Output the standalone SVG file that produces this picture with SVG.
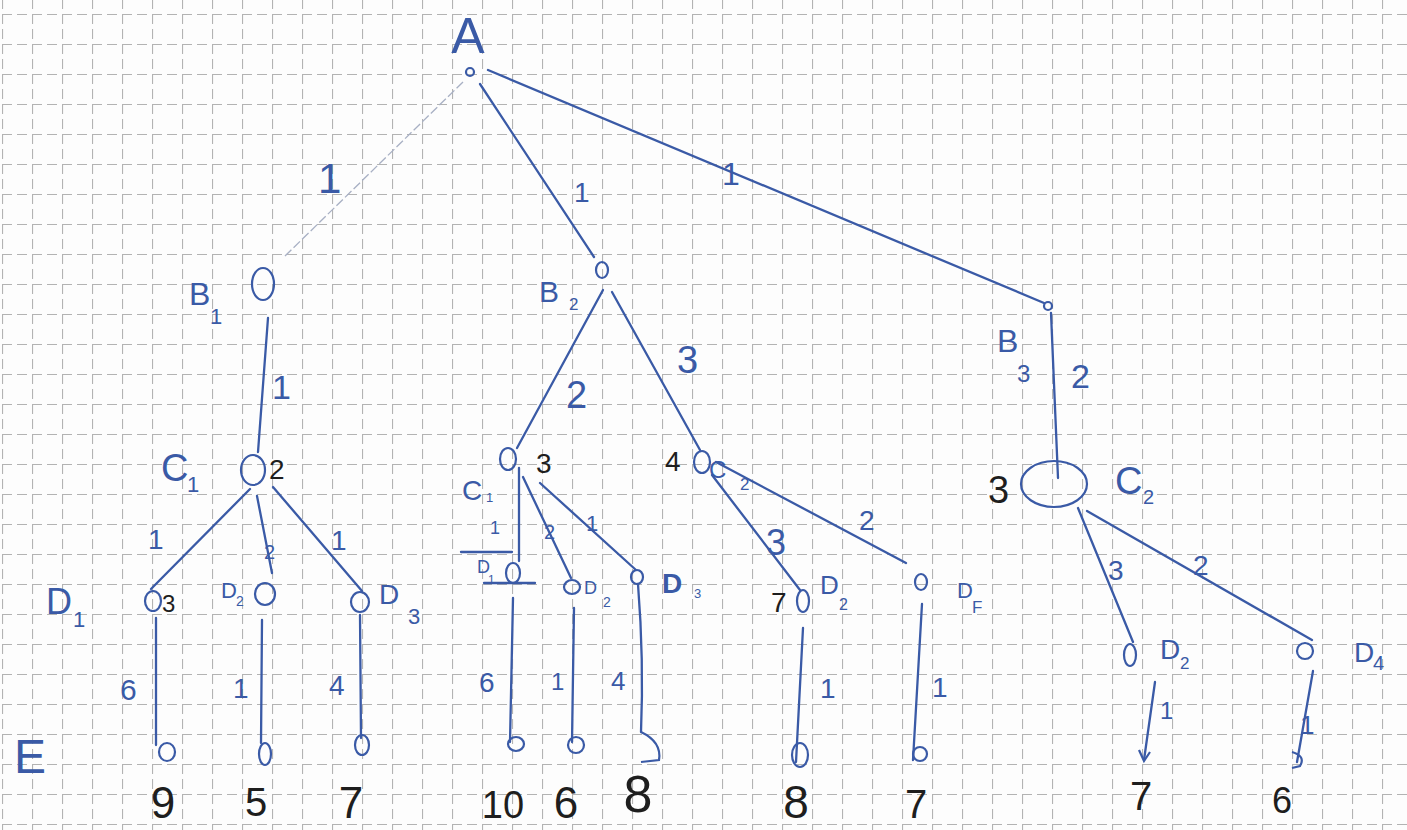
<svg xmlns="http://www.w3.org/2000/svg" width="1407" height="830" viewBox="0 0 1407 830">
<defs>
<pattern id="grid" x="2" y="14" width="30" height="30" patternUnits="userSpaceOnUse">
<path d="M0 0.5 H30 M0.5 0 V30" stroke="#b3b3b3" stroke-width="1.2" stroke-dasharray="10 5" fill="none"/>
</pattern>
<style>
.e{stroke:#3a5aa6;stroke-width:2.3;fill:none;stroke-linecap:round}
.faint{stroke:#a8b0c4;stroke-width:1.3;fill:none;stroke-dasharray:9 3}
.n{stroke:#3a5aa6;stroke-width:2.2;fill:none}
.t{fill:#3a5aa6;font-family:"Liberation Sans",Arial,sans-serif}
.k{fill:#1e1e1e;font-family:"Liberation Sans",Arial,sans-serif}
</style>
</defs>
<rect width="1407" height="830" fill="#fdfdfd"/>
<rect width="1407" height="830" fill="url(#grid)"/>

<g id="connectors">
<line class="faint" x1="463" y1="82" x2="283" y2="258"/>
<line class="e" x1="480" y1="84" x2="594" y2="257"/>
<line class="e" x1="488" y1="70" x2="1044" y2="303"/>
<line class="e" x1="268" y1="318" x2="258" y2="452"/>
<line class="e" x1="603" y1="290" x2="517" y2="448"/>
<line class="e" x1="612" y1="292" x2="700" y2="450"/>
<line class="e" x1="1051" y1="313" x2="1058" y2="478"/>
<line class="e" x1="250" y1="489" x2="151" y2="589"/>
<line class="e" x1="257" y1="496" x2="272" y2="573"/>
<line class="e" x1="273" y1="487" x2="362" y2="591"/>
<line class="e" x1="519" y1="468" x2="519" y2="561"/>
<line class="e" x1="523" y1="477" x2="571" y2="578"/>
<line class="e" x1="540" y1="483" x2="636" y2="570"/>
<line class="e" x1="712" y1="475" x2="800" y2="590"/>
<line class="e" x1="716" y1="462" x2="906" y2="563"/>
<line class="e" x1="1078" y1="508" x2="1133" y2="642"/>
<line class="e" x1="1087" y1="511" x2="1312" y2="640"/>
<line class="e" x1="156" y1="618" x2="156" y2="745"/>
<line class="e" x1="262" y1="620" x2="261" y2="743"/>
<line class="e" x1="360" y1="615" x2="361" y2="738"/>
<line class="e" x1="513" y1="598" x2="510" y2="742"/>
<line class="e" x1="574" y1="608" x2="572" y2="742"/>
<path class="e" d="M638 584 Q644 660 641 732"/>
<line class="e" x1="803" y1="628" x2="796" y2="762"/>
<line class="e" x1="922" y1="604" x2="913" y2="760"/>
<line class="e" x1="1155" y1="682" x2="1144" y2="760"/>
<line class="e" x1="1313" y1="671" x2="1297" y2="762"/>
<line class="e" x1="461" y1="552" x2="512" y2="552" stroke-width="1.6"/>
<line class="e" x1="484" y1="583" x2="535" y2="583" stroke-width="1.6"/>
</g>

<g id="A">
<text class="t" x="468" y="53" font-size="50" text-anchor="middle">A</text>
<circle class="n" cx="470" cy="72" r="4"/>
</g>
<g id="B1">
<ellipse class="n" cx="263" cy="284" rx="11" ry="16"/>
<text class="t" x="189" y="305" font-size="32">B<tspan x="210" y="324" font-size="22">1</tspan></text>
</g>
<g id="B2">
<ellipse class="n" cx="602" cy="270" rx="6" ry="8"/>
<text class="t" x="539" y="302" font-size="30">B<tspan x="569" y="310" font-size="17">2</tspan></text>
</g>
<g id="B3">
<circle class="n" cx="1048" cy="306" r="4"/>
<text class="t" x="997" y="352" font-size="32">B<tspan x="1017" y="382" font-size="24">3</tspan></text>
</g>
<g id="C1">
<ellipse class="n" cx="253" cy="470" rx="12" ry="15"/>
<text class="t" x="161" y="481" font-size="38">C<tspan x="187" y="492" font-size="22">1</tspan></text>
<text class="k" x="269" y="479" font-size="28">2</text>
</g>
<g id="C1b">
<ellipse class="n" cx="508" cy="459" rx="8" ry="11"/>
<text class="t" x="462" y="500" font-size="28">C<tspan x="486" y="502" font-size="13">1</tspan></text>
<text class="k" x="536" y="473" font-size="28">3</text>
</g>
<g id="C2b">
<ellipse class="n" cx="702" cy="462" rx="8" ry="11"/>
<text class="k" x="665" y="471" font-size="28">4</text>
<text class="t" x="709" y="478" font-size="24">C<tspan x="740" y="490" font-size="17">2</tspan></text>
</g>
<g id="C2">
<ellipse class="n" cx="1054" cy="484" rx="33" ry="23"/>
<text class="k" x="988" y="503" font-size="38">3</text>
<text class="t" x="1115" y="494" font-size="38">C<tspan x="1143" y="504" font-size="20">2</tspan></text>
</g>
<g id="D1">
<ellipse class="n" cx="153" cy="601" rx="8" ry="10"/>
<text class="k" x="162" y="612" font-size="24">3</text>
<text class="t" x="46" y="614" font-size="36">D<tspan x="73" y="627" font-size="22">1</tspan></text>
</g>
<g id="D2">
<ellipse class="n" cx="265" cy="594" rx="10" ry="11"/>
<text class="t" x="221" y="598" font-size="22">D<tspan x="236" y="606" font-size="14">2</tspan></text>
</g>
<g id="D3">
<ellipse class="n" cx="360" cy="602" rx="9" ry="10"/>
<text class="t" x="379" y="604" font-size="28">D<tspan x="408" y="624" font-size="22">3</tspan></text>
</g>
<g id="D1b">
<ellipse class="n" cx="513" cy="573" rx="7" ry="10"/>
<text class="t" x="477" y="573" font-size="18">D<tspan x="488" y="584" font-size="12">1</tspan></text>
</g>
<g id="D2b">
<ellipse class="n" cx="572" cy="587" rx="8" ry="7"/>
<text class="t" x="584" y="594" font-size="18">D<tspan x="603" y="607" font-size="14">2</tspan></text>
</g>
<g id="D3b">
<ellipse class="n" cx="637" cy="577" rx="6" ry="7"/>
<text class="t" x="662" y="593" font-size="28" font-weight="bold">D<tspan x="694" y="598" font-size="13" font-weight="normal">3</tspan></text>
</g>
<g id="D2c">
<ellipse class="n" cx="803" cy="601" rx="6" ry="11"/>
<text class="k" x="771" y="612" font-size="28">7</text>
<text class="t" x="820" y="594" font-size="26">D<tspan x="839" y="610" font-size="16">2</tspan></text>
</g>
<g id="DF">
<ellipse class="n" cx="921" cy="582" rx="6" ry="8"/>
<text class="t" x="957" y="598" font-size="22">D<tspan x="972" y="613" font-size="17">F</tspan></text>
</g>
<g id="D2d">
<ellipse class="n" cx="1130" cy="655" rx="6" ry="11"/>
<text class="t" x="1160" y="659" font-size="28">D<tspan x="1180" y="669" font-size="17">2</tspan></text>
</g>
<g id="D4">
<ellipse class="n" cx="1305" cy="651" rx="8" ry="8"/>
<text class="t" x="1354" y="662" font-size="28">D<tspan x="1373" y="670" font-size="20">4</tspan></text>
</g>

<g id="E">
<text class="t" x="14" y="773" font-size="48">E</text>
<ellipse class="n" cx="167" cy="752" rx="8" ry="9"/>
<ellipse class="n" cx="265" cy="754" rx="6" ry="11"/>
<ellipse class="n" cx="362" cy="745" rx="7" ry="10"/>
<ellipse class="n" cx="516" cy="744" rx="8" ry="7"/>
<ellipse class="n" cx="576" cy="745" rx="8" ry="8"/>
<path class="n" d="M641 732 Q662 742 659 760 L641 762"/>
<ellipse class="n" cx="800" cy="755" rx="8" ry="12"/>
<ellipse class="n" cx="920" cy="754" rx="7" ry="7"/>
<path class="n" d="M1139 750 L1144 761 L1150 752"/>
<path class="n" d="M1292 752 Q1306 756 1300 766 L1292 768"/>
</g>

<g id="edge-labels">
<text class="t" x="318" y="193" font-size="42">1</text>
<text class="t" x="574" y="202" font-size="28">1</text>
<text class="t" x="722" y="185" font-size="32">1</text>
<text class="t" x="272" y="399" font-size="34">1</text>
<text class="t" x="566" y="408" font-size="38">2</text>
<text class="t" x="677" y="373" font-size="38">3</text>
<text class="t" x="1071" y="388" font-size="34">2</text>
<text class="t" x="148" y="549" font-size="28">1</text>
<text class="t" x="264" y="559" font-size="20">2</text>
<text class="t" x="331" y="550" font-size="28">1</text>
<text class="t" x="490" y="534" font-size="18">1</text>
<text class="t" x="544" y="539" font-size="20">2</text>
<text class="t" x="586" y="531" font-size="22">1</text>
<text class="t" x="766" y="555" font-size="36">3</text>
<text class="t" x="859" y="530" font-size="28">2</text>
<text class="t" x="1108" y="580" font-size="28">3</text>
<text class="t" x="1193" y="575" font-size="28">2</text>
<text class="t" x="120" y="700" font-size="30">6</text>
<text class="t" x="233" y="698" font-size="28">1</text>
<text class="t" x="329" y="695" font-size="28">4</text>
<text class="t" x="479" y="692" font-size="28">6</text>
<text class="t" x="551" y="690" font-size="24">1</text>
<text class="t" x="611" y="690" font-size="26">4</text>
<text class="t" x="820" y="698" font-size="28">1</text>
<text class="t" x="932" y="697" font-size="28">1</text>
<text class="t" x="1160" y="719" font-size="24">1</text>
<text class="t" x="1300" y="734" font-size="26">1</text>
</g>

<g id="values">
<text class="k" x="163" y="818" font-size="44" text-anchor="middle">9</text>
<text class="k" x="256" y="816" font-size="40" text-anchor="middle">5</text>
<text class="k" x="351" y="818" font-size="44" text-anchor="middle">7</text>
<text class="k" x="503" y="818" font-size="38" text-anchor="middle">10</text>
<text class="k" x="566" y="818" font-size="44" text-anchor="middle">6</text>
<text class="k" x="638" y="812" font-size="52" text-anchor="middle">8</text>
<text class="k" x="796" y="818" font-size="46" text-anchor="middle">8</text>
<text class="k" x="916" y="818" font-size="40" text-anchor="middle">7</text>
<text class="k" x="1141" y="810" font-size="40" text-anchor="middle">7</text>
<text class="k" x="1282" y="813" font-size="36" text-anchor="middle">6</text>
</g>
</svg>
